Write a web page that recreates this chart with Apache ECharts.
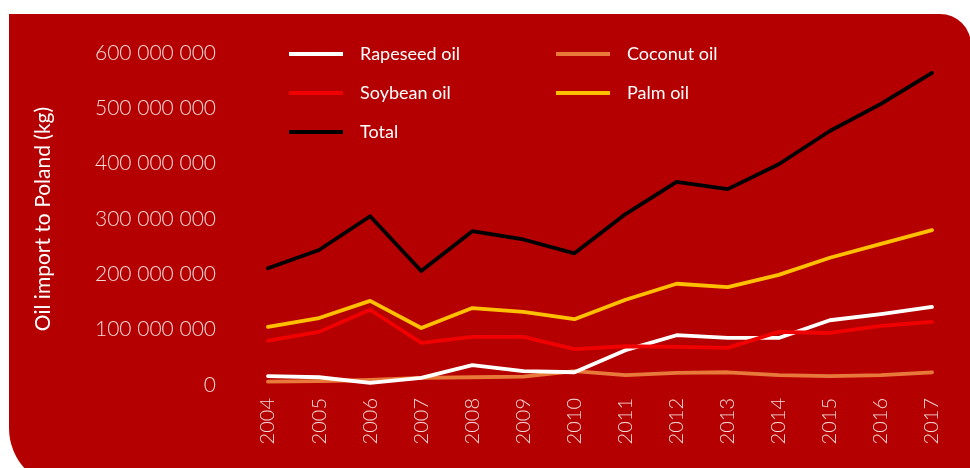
<!DOCTYPE html>
<html>
<head>
<meta charset="utf-8">
<script src="https://cdn.jsdelivr.net/npm/echarts@6/dist/echarts.min.js"></script>
<style>
html,body{margin:0;padding:0;background:#ffffff;}
#chart{width:970px;height:468px;}
</style>
</head>
<body>
<div id="chart"></div>
<script>
const years = ['2004','2005','2006','2007','2008','2009','2010','2011','2012','2013','2014','2015','2016','2017'];
const rapeseed = [16e6, 14e6, 4e6, 13e6, 36e6, 25e6, 23e6, 63e6, 90e6, 85e6, 85e6, 117e6, 128e6, 141e6];
const soybean  = [80e6, 96e6, 136e6, 76e6, 87e6, 87e6, 65e6, 70e6, 69e6, 67e6, 96e6, 94e6, 107e6, 114e6];
const coconut  = [6e6, 7e6, 9e6, 13e6, 14e6, 15e6, 25e6, 18e6, 22e6, 23e6, 18e6, 16e6, 18e6, 23e6];
const palm     = [105e6, 121e6, 152e6, 103e6, 139e6, 132e6, 119e6, 154e6, 183e6, 177e6, 199e6, 230e6, 255e6, 280e6];
const total    = [211e6, 244e6, 305e6, 206e6, 278e6, 263e6, 238e6, 309e6, 367e6, 354e6, 399e6, 459e6, 508e6, 564e6];
const seriesNames = ['Rapeseed oil', 'Soybean oil', 'Coconut oil', 'Palm oil', 'Total'];

const chart = echarts.init(document.getElementById('chart'), null, {renderer: 'canvas'});
function fmt(v){ return String(Math.round(v)).replace(/\B(?=(\d{3})+(?!\d))/g, ' '); }
function mk(name, data, color, z){
  return {name: name, type: 'line', data: data, symbol: 'none', z: z,
    lineStyle: {color: color, width: 3.8, cap: 'round', join: 'round'}, itemStyle: {color: color}};
}
const legendText = {color: '#ffffff', fontFamily: 'Lato', fontSize: 18, lineHeight: 20, padding: [0,0,0,12]};
chart.setOption({
  animation: false,
  graphic: [{type: 'rect', z: -10, silent: true,
    shape: {x: 9, y: 14, width: 962, height: 474, r: [0, 31, 0, 60]},
    style: {fill: '#b40000'}}],
  legend: [
    {data: ['Rapeseed oil', 'Soybean oil', 'Total'], orient: 'vertical', left: 284, top: 39,
     itemWidth: 54, itemHeight: 4, itemGap: 19, icon: 'rect', textStyle: legendText},
    {data: ['Coconut oil', 'Palm oil'], orient: 'vertical', left: 551, top: 39,
     itemWidth: 54, itemHeight: 4, itemGap: 19, icon: 'rect', textStyle: legendText}
  ],
  grid: {left: 268, right: 38, top: 53, bottom: 83, containLabel: false},
  xAxis: {type: 'category', data: years, boundaryGap: false,
    axisLine: {show: false}, axisTick: {show: false}, splitLine: {show: false},
    axisLabel: {rotate: 90, margin: 13, color: 'rgba(255,255,255,0.85)', fontFamily: 'Lato', fontWeight: 300, fontSize: 20}},
  yAxis: {type: 'value', min: 0, max: 600e6, interval: 100e6,
    name: 'Oil import to Poland (kg)', nameLocation: 'middle', nameGap: 214, nameRotate: 90,
    nameTextStyle: {color: '#ffffff', fontFamily: 'Lato', fontSize: 21},
    axisLine: {show: false}, axisTick: {show: false}, splitLine: {show: false},
    axisLabel: {margin: 52, color: 'rgba(255,255,255,0.85)', fontFamily: 'Lato', fontWeight: 300, fontSize: 21, formatter: fmt}},
  series: [
    mk(seriesNames[0], rapeseed, '#ffffff', 3),
    mk(seriesNames[1], soybean, '#f00000', 4),
    mk(seriesNames[2], coconut, '#e8793a', 2),
    mk(seriesNames[3], palm, '#ffc000', 5),
    mk(seriesNames[4], total, '#000000', 6)
  ]
});
</script>
</body>
</html>
